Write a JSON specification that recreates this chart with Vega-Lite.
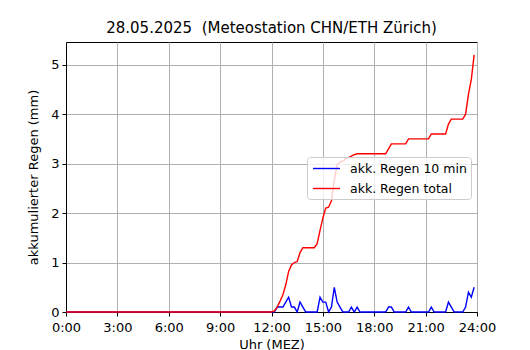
{
  "$schema": "https://vega.github.io/schema/vega-lite/v6.json",
  "width": 411,
  "height": 270,
  "autosize": {"type": "none"},
  "padding": {"left": 66, "top": 42, "right": 53, "bottom": 38},
  "background": "white",
  "title": {"text": "28.05.2025\u00a0 (Meteostation CHN/ETH Zürich)", "font": "DejaVu Sans", "fontSize": 15, "fontWeight": "normal", "color": "black", "offset": 6, "anchor": "middle"},
  "data": {"values": [
    {"m":0,"b":0,"r":0},{"m":10,"b":0,"r":0},{"m":20,"b":0,"r":0},{"m":30,"b":0,"r":0},{"m":40,"b":0,"r":0},{"m":50,"b":0,"r":0},
    {"m":60,"b":0,"r":0},{"m":70,"b":0,"r":0},{"m":80,"b":0,"r":0},{"m":90,"b":0,"r":0},{"m":100,"b":0,"r":0},{"m":110,"b":0,"r":0},
    {"m":120,"b":0,"r":0},{"m":130,"b":0,"r":0},{"m":140,"b":0,"r":0},{"m":150,"b":0,"r":0},{"m":160,"b":0,"r":0},{"m":170,"b":0,"r":0},
    {"m":180,"b":0,"r":0},{"m":190,"b":0,"r":0},{"m":200,"b":0,"r":0},{"m":210,"b":0,"r":0},{"m":220,"b":0,"r":0},{"m":230,"b":0,"r":0},
    {"m":240,"b":0,"r":0},{"m":250,"b":0,"r":0},{"m":260,"b":0,"r":0},{"m":270,"b":0,"r":0},{"m":280,"b":0,"r":0},{"m":290,"b":0,"r":0},
    {"m":300,"b":0,"r":0},{"m":310,"b":0,"r":0},{"m":320,"b":0,"r":0},{"m":330,"b":0,"r":0},{"m":340,"b":0,"r":0},{"m":350,"b":0,"r":0},
    {"m":360,"b":0,"r":0},{"m":370,"b":0,"r":0},{"m":380,"b":0,"r":0},{"m":390,"b":0,"r":0},{"m":400,"b":0,"r":0},{"m":410,"b":0,"r":0},
    {"m":420,"b":0,"r":0},{"m":430,"b":0,"r":0},{"m":440,"b":0,"r":0},{"m":450,"b":0,"r":0},{"m":460,"b":0,"r":0},{"m":470,"b":0,"r":0},
    {"m":480,"b":0,"r":0},{"m":490,"b":0,"r":0},{"m":500,"b":0,"r":0},{"m":510,"b":0,"r":0},{"m":520,"b":0,"r":0},{"m":530,"b":0,"r":0},
    {"m":540,"b":0,"r":0},{"m":550,"b":0,"r":0},{"m":560,"b":0,"r":0},{"m":570,"b":0,"r":0},{"m":580,"b":0,"r":0},{"m":590,"b":0,"r":0},
    {"m":600,"b":0,"r":0},{"m":610,"b":0,"r":0},{"m":620,"b":0,"r":0},{"m":630,"b":0,"r":0},{"m":640,"b":0,"r":0},{"m":650,"b":0,"r":0},
    {"m":660,"b":0,"r":0},{"m":670,"b":0,"r":0},{"m":680,"b":0,"r":0},{"m":690,"b":0,"r":0},{"m":700,"b":0,"r":0},{"m":710,"b":0,"r":0},
    {"m":720,"b":0,"r":0},{"m":730,"b":0,"r":0.02},{"m":740,"b":0.1,"r":0.1},{"m":750,"b":0.1,"r":0.22},{"m":760,"b":0.1,"r":0.35},{"m":770,"b":0.2,"r":0.55},
    {"m":780,"b":0.3,"r":0.82},{"m":790,"b":0.1,"r":0.95},{"m":800,"b":0.1,"r":1.0},{"m":810,"b":0,"r":1.02},{"m":820,"b":0.2,"r":1.2},{"m":830,"b":0.1,"r":1.3},
    {"m":840,"b":0,"r":1.3},{"m":850,"b":0,"r":1.3},{"m":860,"b":0,"r":1.3},{"m":870,"b":0,"r":1.3},{"m":880,"b":0,"r":1.38},{"m":890,"b":0.3,"r":1.65},
    {"m":900,"b":0.2,"r":1.9},{"m":910,"b":0.2,"r":2.1},{"m":920,"b":0,"r":2.12},{"m":930,"b":0.1,"r":2.25},{"m":940,"b":0.5,"r":2.67},{"m":950,"b":0.2,"r":2.98},
    {"m":960,"b":0.1,"r":3.03},{"m":970,"b":0,"r":3.05},{"m":980,"b":0,"r":3.1},{"m":990,"b":0,"r":3.12},{"m":1000,"b":0.1,"r":3.15},{"m":1010,"b":0,"r":3.18},
    {"m":1020,"b":0.1,"r":3.2},{"m":1030,"b":0,"r":3.2},{"m":1040,"b":0,"r":3.2},{"m":1050,"b":0,"r":3.2},{"m":1060,"b":0,"r":3.2},{"m":1070,"b":0,"r":3.2},
    {"m":1080,"b":0,"r":3.2},{"m":1090,"b":0,"r":3.2},{"m":1100,"b":0,"r":3.2},{"m":1110,"b":0,"r":3.2},{"m":1120,"b":0,"r":3.2},{"m":1130,"b":0.1,"r":3.3},
    {"m":1140,"b":0.1,"r":3.4},{"m":1150,"b":0,"r":3.4},{"m":1160,"b":0,"r":3.4},{"m":1170,"b":0,"r":3.4},{"m":1180,"b":0,"r":3.4},{"m":1190,"b":0,"r":3.4},
    {"m":1200,"b":0.1,"r":3.5},{"m":1210,"b":0,"r":3.5},{"m":1220,"b":0,"r":3.5},{"m":1230,"b":0,"r":3.5},{"m":1240,"b":0,"r":3.5},{"m":1250,"b":0,"r":3.5},
    {"m":1260,"b":0,"r":3.5},{"m":1270,"b":0,"r":3.5},{"m":1280,"b":0.1,"r":3.6},{"m":1290,"b":0,"r":3.6},{"m":1300,"b":0,"r":3.6},{"m":1310,"b":0,"r":3.6},
    {"m":1320,"b":0,"r":3.6},{"m":1330,"b":0,"r":3.6},{"m":1340,"b":0.2,"r":3.8},{"m":1350,"b":0.1,"r":3.9},{"m":1360,"b":0,"r":3.9},{"m":1370,"b":0,"r":3.9},
    {"m":1380,"b":0,"r":3.9},{"m":1390,"b":0,"r":3.9},{"m":1400,"b":0.1,"r":4.0},{"m":1410,"b":0.4,"r":4.4},{"m":1420,"b":0.3,"r":4.7},{"m":1430,"b":0.5,"r":5.2}
  ]},
  "transform": [{"fold": ["b", "r"], "as": ["s", "v"]}],
  "mark": {"type": "line", "strokeWidth": 1.4},
  "encoding": {
    "x": {"field": "m", "type": "quantitative",
      "scale": {"domain": [0, 1440], "nice": false, "zero": false},
      "axis": {"values": [0, 180, 360, 540, 720, 900, 1080, 1260, 1440], "labelExpr": "floor(datum.value/60) + ':00'", "title": "Uhr (MEZ)", "labelPadding": 5, "titlePadding": 4}},
    "y": {"field": "v", "type": "quantitative",
      "scale": {"domain": [0, 5.46], "nice": false},
      "axis": {"values": [0, 1, 2, 3, 4, 5], "title": "akkumulierter Regen (mm)", "titlePadding": 10}},
    "color": {"field": "s", "type": "nominal",
      "scale": {"domain": ["b", "r"], "range": ["#0000ff", "#ff0000"]},
      "legend": {"title": null, "orient": "none", "legendX": 241, "legendY": 115,
        "labelExpr": "datum.label == 'b' ? 'akk. Regen 10 min' : 'akk. Regen total'",
        "symbolType": "M-2,0H2", "symbolSize": 182, "symbolStrokeWidth": 1.4, "symbolOffset": 8,
        "fillColor": "rgba(255,255,255,0.8)", "strokeColor": "#cccccc", "cornerRadius": 3,
        "padding": 4, "labelFont": "DejaVu Sans", "labelFontSize": 12.5, "labelColor": "black", "labelOffset": 16, "rowPadding": 6}}
  },
  "config": {
    "view": {"stroke": "black", "strokeWidth": 1},
    "axis": {"labelFont": "DejaVu Sans", "titleFont": "DejaVu Sans", "labelFontSize": 13, "titleFontSize": 13,
      "titleFontWeight": "normal", "labelColor": "black", "titleColor": "black", "tickColor": "black", "domainColor": "black",
      "grid": true, "gridColor": "#b0b0b0", "gridWidth": 1, "tickSize": 4, "labelPadding": 3, "labelFlush": false, "labelOverlap": false}
  }
}
